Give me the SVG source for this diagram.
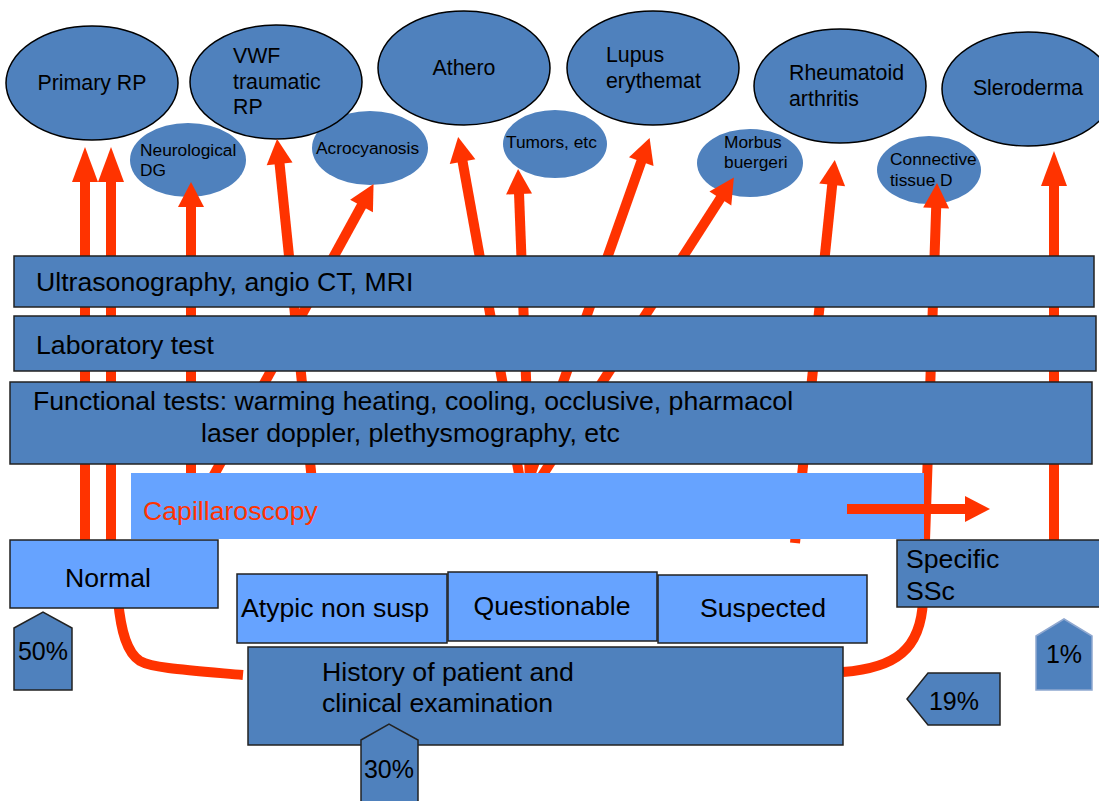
<svg xmlns="http://www.w3.org/2000/svg" width="1099" height="801" viewBox="0 0 1099 801">
<defs>
<style>
text{font-family:"Liberation Sans",Arial,sans-serif;fill:#000}
.big{fill:#4f81bd;stroke:#000;stroke-width:1.5}
.small{fill:#4f81bd;stroke:none}
.t21{font-size:21.33px}
.t17{font-size:17.33px}
.t26{font-size:26.67px}
.t25{font-size:25px}
.mid{text-anchor:middle}
.dark{fill:#4f81bd;stroke:#222;stroke-width:1.5}
.light{fill:#66a3ff;stroke:#222;stroke-width:1.5}
.cap{fill:#66a3ff;stroke:none}
.ar{fill:none;stroke:#ff3300;stroke-width:10}
.red{fill:#ff3300}
</style>
<marker id="hs" markerUnits="userSpaceOnUse" markerWidth="25" markerHeight="26" refX="1" refY="13" orient="auto" overflow="visible"><path d="M0,0 L25,13 L0,26 z" fill="#ff3300"/></marker>
<marker id="hl" markerUnits="userSpaceOnUse" markerWidth="35" markerHeight="26" refX="1" refY="13" orient="auto" overflow="visible"><path d="M0,0 L35,13 L0,26 z" fill="#ff3300"/></marker>
</defs>
<rect width="1099" height="801" fill="#fff"/>

<!-- small ellipses -->
<g id="neurological"><ellipse class="small" cx="188" cy="160" rx="58" ry="37"/><text class="t17" x="140" y="156">Neurological</text><text class="t17" x="140" y="176">DG</text></g>
<g id="acrocyanosis"><ellipse class="small" cx="370" cy="148" rx="58" ry="37"/><text class="t17" x="316" y="154">Acrocyanosis</text></g>
<g id="tumors"><ellipse class="small" cx="555" cy="144" rx="52" ry="34"/><text class="t17" x="506" y="148">Tumors, etc</text></g>
<g id="morbus"><ellipse class="small" cx="750" cy="163" rx="53" ry="34"/><text class="t17" x="724" y="148">Morbus</text><text class="t17" x="724" y="168">buergeri</text></g>
<g id="connective"><ellipse class="small" cx="929" cy="170" rx="52" ry="34"/><text class="t17" x="890" y="165">Connective</text><text class="t17" x="890" y="186">tissue D</text></g>

<!-- big ellipses -->
<g id="primary-rp"><ellipse class="big" cx="92" cy="83" rx="86" ry="57"/><text class="t21 mid" x="92" y="90">Primary RP</text></g>
<g id="vwf"><ellipse class="big" cx="276" cy="82" rx="86" ry="57"/><text class="t21" x="233" y="63">VWF</text><text class="t21" x="233" y="89">traumatic</text><text class="t21" x="233" y="114">RP</text></g>
<g id="athero"><ellipse class="big" cx="464" cy="68" rx="86" ry="57"/><text class="t21 mid" x="464" y="75">Athero</text></g>
<g id="lupus"><ellipse class="big" cx="653" cy="68" rx="86" ry="57"/><text class="t21" x="606" y="62">Lupus</text><text class="t21" x="606" y="88">erythemat</text></g>
<g id="rheumatoid"><ellipse class="big" cx="840" cy="86" rx="86" ry="57"/><text class="t21" x="789" y="80">Rheumatoid</text><text class="t21" x="789" y="106">arthritis</text></g>
<g id="sleroderma"><ellipse class="big" cx="1028" cy="89" rx="86" ry="57"/><text class="t21 mid" x="1028" y="95">Sleroderma</text></g>

<!-- connectors -->
<g id="connectors">
<line class="ar" x1="85" y1="540" x2="85" y2="181" marker-end="url(#hl)"/>
<line class="ar" x1="111" y1="540" x2="111" y2="181" marker-end="url(#hl)"/>
<line class="ar" x1="191" y1="535" x2="191" y2="206" marker-end="url(#hs)"/>
<line class="ar" x1="317.5" y1="535" x2="279.5" y2="162.9" marker-end="url(#hs)"/>
<line class="ar" x1="181" y1="535" x2="362" y2="205" marker-end="url(#hs)"/>
<line class="ar" x1="530" y1="535" x2="462.4" y2="160.6" marker-end="url(#hs)"/>
<line class="ar" x1="532" y1="535" x2="519" y2="193" marker-end="url(#hs)"/>
<line class="ar" x1="509" y1="535" x2="641.6" y2="160.6" marker-end="url(#hs)"/>
<line class="ar" x1="504" y1="535" x2="720.9" y2="197.6" marker-end="url(#hs)"/>
<line class="ar" x1="795" y1="543" x2="832.3" y2="183.9" marker-end="url(#hs)"/>
<path class="ar" d="M843,672 C895,668 921,650 923,600 L936.2,207" marker-end="url(#hs)"/>
<line class="ar" x1="1054" y1="540" x2="1054" y2="185" marker-end="url(#hl)"/>
<path class="ar" d="M243,675 C185,670 152,668 140,661 C127,653 121,632 118,600"/>
</g>

<!-- boxes -->
<g id="ultrasonography"><rect class="dark" x="14" y="256" width="1080" height="51"/><text class="t26" x="36" y="291">Ultrasonography, angio CT, MRI</text></g>
<g id="laboratory"><rect class="dark" x="14" y="316" width="1082" height="55"/><text class="t26" x="36" y="354">Laboratory test</text></g>
<g id="functional"><rect class="dark" x="10" y="382" width="1082" height="82"/><text class="t26" x="33" y="410">Functional tests: warming heating, cooling, occlusive, pharmacol</text><text class="t26" x="201" y="442">laser doppler, plethysmography, etc</text></g>
<g id="capillaroscopy"><rect class="cap" x="131" y="473" width="793" height="66"/><text class="t26 red" x="143" y="520">Capillaroscopy</text></g>
<g id="normal"><rect class="light" x="10" y="540" width="208" height="68"/><text class="t26 mid" x="108" y="587">Normal</text></g>
<g id="atypic"><rect class="light" x="237" y="574" width="210" height="69"/><text class="t26" x="241" y="617">Atypic non susp</text></g>
<g id="questionable"><rect class="light" x="448" y="572" width="209" height="69"/><text class="t26 mid" x="552" y="615">Questionable</text></g>
<g id="suspected"><rect class="light" x="658" y="575" width="209" height="68"/><text class="t26 mid" x="763" y="617">Suspected</text></g>
<g id="history"><rect class="dark" x="248" y="647" width="595" height="98"/><text class="t26" x="322" y="681">History of patient and</text><text class="t26" x="322" y="712">clinical examination</text></g>
<g id="specific"><rect class="dark" x="897" y="540" width="205" height="67"/><text class="t26" x="906" y="568">Specific</text><text class="t26" x="906" y="600">SSc</text></g>

<g id="connectors-front">
<line class="ar" x1="847" y1="509" x2="966" y2="509" marker-end="url(#hs)"/>
</g>

<!-- percentages -->
<g id="pct50"><polygon class="dark" points="14,628 43,612 72,628 72,690 14,690"/><text class="t25 mid" x="43" y="660">50%</text></g>
<g id="pct30"><polygon class="dark" points="361,740 389,724 418,740 418,803 361,803"/><text class="t25 mid" x="389" y="778">30%</text></g>
<g id="pct1"><polygon points="1036,636 1064,619 1092,636 1092,690 1036,690" fill="#4f81bd" stroke="#8fa8d0" stroke-width="1.5"/><text class="t25 mid" x="1064" y="663">1%</text></g>
<g id="pct19"><polygon class="dark" points="907,699 928,673 1000,673 1000,725 928,725"/><text class="t25 mid" x="954" y="710">19%</text></g>
</svg>
